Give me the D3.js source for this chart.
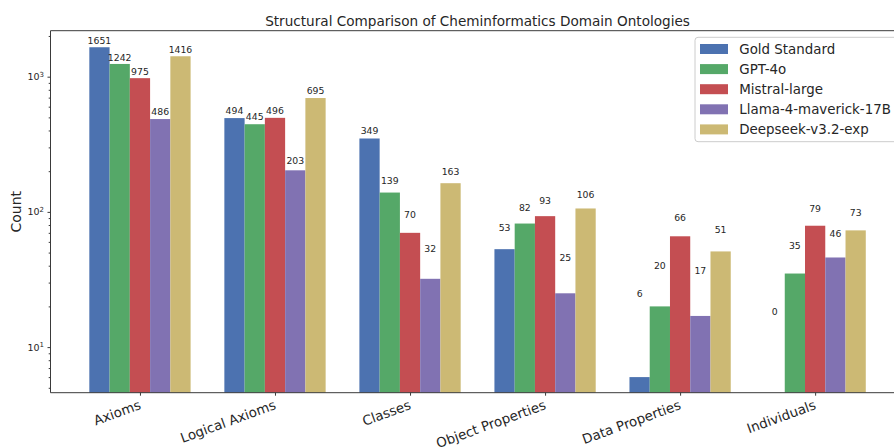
<!DOCTYPE html>
<html>
<head>
<meta charset="utf-8">
<script src="https://cdn.jsdelivr.net/npm/d3@7"></script>
<style>
  html, body { margin: 0; padding: 0; background: #fff; }
  svg { display: block; font-family: "DejaVu Sans", sans-serif; }
  svg text { font-family: "DejaVu Sans", sans-serif; }
</style>
</head>
<body>
<svg id="chart" width="894" height="448"></svg>
<script>
// Ontology metrics compared across the reference and four LLM-built ontologies
const categories = ["Axioms", "Logical Axioms", "Classes", "Object Properties", "Data Properties", "Individuals"];
const seriesNames = ["Gold Standard", "GPT-4o", "Mistral-large", "Llama-4-maverick-17B", "Deepseek-v3.2-exp"];
const goldStandard = [1651, 494, 349, 53, 6, 0];
const gpt4o        = [1242, 445, 139, 82, 20, 35];
const mistralLarge = [975, 496, 70, 93, 66, 79];
const llama4       = [486, 203, 32, 25, 17, 46];
const deepseek     = [1416, 695, 163, 106, 51, 73];
const majorTicks = [10, 100, 1000];
const colors = ["#4C72B0", "#55A868", "#C44E52", "#8172B2", "#CCB974"];

const series = [goldStandard, gpt4o, mistralLarge, llama4, deepseek];
const maxVal = d3.max(series.flat());

const svg = d3.select("#chart");
const plotLeft = 50.5, plotRight = 904.6, plotTop = 30.7, plotBottom = 392.7;
const barW = 0.15;
const fontFamily = "DejaVu Sans, sans-serif";

const x = d3.scaleLinear().domain([-0.6625, categories.length - 1 + 0.6625]).range([plotLeft, plotRight]);
const y = d3.scaleLog().domain([4.6, 2188]).range([plotBottom, plotTop]);

const textColor = "#262626";
const spineColor = "#3a3a3a";

// Bars (zero counts cannot be drawn on a log axis)
const g = svg.append("g");
series.forEach((vals, j) => {
  const offset = (j - (series.length - 1) / 2) * barW;
  g.selectAll(null)
    .data(vals.map((v, i) => ({ v, i })).filter(d => d.v > 0))
    .enter()
    .append("rect")
    .attr("x", d => x(d.i + offset - barW / 2))
    .attr("width", d => x(d.i + offset + barW / 2) - x(d.i + offset - barW / 2))
    .attr("y", d => y(d.v))
    .attr("height", d => plotBottom - y(d.v))
    .attr("fill", colors[j]);

  // Value labels sit a small step above each bar
  g.selectAll(null)
    .data(vals.map((v, i) => ({ v, i })))
    .enter()
    .append("text")
    .attr("x", d => x(d.i + offset))
    .attr("y", d => y(d.v + maxVal * 0.01) - 2.2)
    .attr("text-anchor", "middle")
    .attr("font-size", 9.3)
    .attr("fill", textColor)
    .text(d => d.v);
});

// Spines
svg.append("line").attr("x1", plotLeft).attr("x2", plotLeft).attr("y1", plotTop).attr("y2", plotBottom)
  .attr("stroke", spineColor).attr("stroke-width", 1);
svg.append("line").attr("x1", plotLeft).attr("x2", plotRight).attr("y1", plotBottom).attr("y2", plotBottom)
  .attr("stroke", spineColor).attr("stroke-width", 1);
svg.append("line").attr("x1", plotLeft).attr("x2", plotRight).attr("y1", plotTop).attr("y2", plotTop)
  .attr("stroke", spineColor).attr("stroke-width", 1);

// Y axis: major ticks with power-of-ten labels
const yAxis = svg.append("g").attr("transform", `translate(${plotLeft},0)`)
  .call(d3.axisLeft(y).tickValues(majorTicks).tickSize(3).tickFormat(""))
  .attr("font-family", fontFamily);
yAxis.select(".domain").remove();
yAxis.selectAll(".tick line").attr("stroke", spineColor);
yAxis.selectAll(".tick").each(function(d) {
  const t = d3.select(this).append("text")
    .attr("x", -6.5).attr("dy", "0.32em")
    .attr("text-anchor", "end")
    .attr("fill", textColor)
    .attr("font-size", 9.5);
  t.append("tspan").text("10");
  t.append("tspan").attr("dy", "-0.5em").attr("font-size", 7).text(Math.round(Math.log10(d)));
});

// Y axis: minor ticks
const minorTicks = [];
for (let p = 0; p <= 3; p++) {
  for (let m = 2; m <= 9; m++) {
    const v = m * Math.pow(10, p);
    if (v >= 4.6 && v <= 2188) minorTicks.push(v);
  }
}
const yMinor = svg.append("g").attr("transform", `translate(${plotLeft},0)`)
  .call(d3.axisLeft(y).tickValues(minorTicks).tickSize(1.8).tickFormat(""));
yMinor.select(".domain").remove();
yMinor.selectAll(".tick line").attr("stroke", spineColor);

// X axis with rotated category labels
const xAxis = svg.append("g").attr("transform", `translate(0,${plotBottom})`)
  .call(d3.axisBottom(x).tickValues(d3.range(categories.length)).tickSize(3).tickFormat(""))
  .attr("font-family", fontFamily);
xAxis.select(".domain").remove();
xAxis.selectAll(".tick line").attr("stroke", spineColor);
xAxis.selectAll(".tick").append("text")
  .attr("transform", "translate(-2,7) rotate(-20)")
  .attr("text-anchor", "end")
  .attr("dominant-baseline", "hanging")
  .attr("font-size", 13.4)
  .attr("fill", textColor)
  .text(d => categories[d]);

// Axis title
svg.append("text")
  .attr("transform", `translate(21,${(plotTop + plotBottom) / 2}) rotate(-90)`)
  .attr("text-anchor", "middle")
  .attr("font-size", 14)
  .attr("fill", textColor)
  .text("Count");

// Chart title
svg.append("text")
  .attr("x", (plotLeft + plotRight) / 2)
  .attr("y", 25.7)
  .attr("text-anchor", "middle")
  .attr("font-size", 13.6)
  .attr("fill", textColor)
  .text("Structural Comparison of Cheminformatics Domain Ontologies");

// Legend
const lg = svg.append("g");
lg.append("rect")
  .attr("x", 695).attr("y", 37.3).attr("width", 204).attr("height", 104.4)
  .attr("rx", 3).attr("fill", "#fff").attr("fill-opacity", 0.8)
  .attr("stroke", "#cccccc").attr("stroke-width", 1);
seriesNames.forEach((name, j) => {
  const cy = 49 + j * 20.1;
  lg.append("rect").attr("x", 700).attr("y", cy - 5).attr("width", 28).attr("height", 10)
    .attr("fill", colors[j]);
  lg.append("text").attr("x", 739.3).attr("y", cy).attr("dy", "0.35em")
    .attr("font-size", 13.4).attr("fill", textColor).text(name);
});
</script>
</body>
</html>
